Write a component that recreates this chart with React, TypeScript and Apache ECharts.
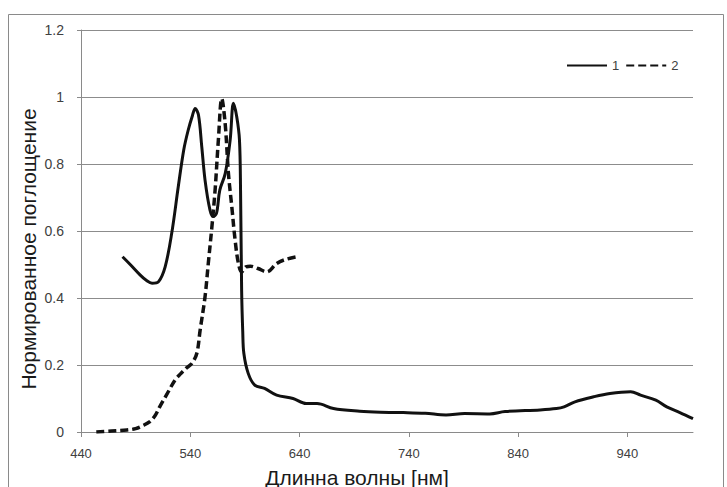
import React, { useEffect, useRef } from "react";
import * as echarts from "echarts";

const xTicks = [440, 540, 640, 740, 840, 940];
const seriesNames = ["1", "2"];
const xTitle = "Длинна волны [нм]";
const yTitle = "Нормированное поглощение";

const series1: [number, number][] = [
  [478, 0.523], [485, 0.5], [494, 0.469], [500, 0.452], [505, 0.444], [511, 0.449],
  [517, 0.493], [523, 0.593], [529, 0.732], [534, 0.842], [538, 0.9], [542, 0.945],
  [544.5, 0.966], [547.5, 0.946], [550.5, 0.852], [553.5, 0.752], [558, 0.663],
  [561, 0.643], [564, 0.653], [567, 0.722], [572, 0.772], [576.5, 0.872],
  [579.5, 0.981], [582.5, 0.941], [585, 0.872], [586, 0.72], [587, 0.42], [588, 0.3],
  [589, 0.235], [593, 0.175], [599, 0.14], [608, 0.13], [619, 0.11], [634, 0.1],
  [646, 0.085], [656, 0.085], [671, 0.07], [695, 0.062], [714, 0.059], [735, 0.058],
  [755, 0.056], [774, 0.051], [791, 0.055], [814, 0.054], [828, 0.061], [860, 0.066],
  [875, 0.07], [882, 0.075], [892, 0.09], [909, 0.105], [924, 0.115], [943, 0.12],
  [952, 0.11], [966, 0.095], [976, 0.075], [988, 0.058], [1000, 0.04],
];

const series2: [number, number][] = [
  [454, 0], [468, 0.003], [482, 0.006], [490, 0.01], [496, 0.018], [503, 0.031],
  [508, 0.05], [512, 0.075], [519, 0.115], [526, 0.155], [531.5, 0.175], [536, 0.19],
  [541.5, 0.205], [546, 0.235], [549, 0.304], [553.5, 0.404], [556.5, 0.504],
  [559.7, 0.61], [562.7, 0.722], [565.7, 0.872], [568.8, 0.995], [571.9, 0.921],
  [574.9, 0.772], [578, 0.672], [581, 0.573], [584, 0.504], [587, 0.478], [591, 0.493],
  [595, 0.495], [602, 0.488], [610, 0.478], [619, 0.503], [627, 0.515], [637.5, 0.523],
];

const FONT = "'Liberation Sans', Arial, sans-serif";

export default function App() {
  const ref = useRef<HTMLDivElement>(null);
  useEffect(() => {
    if (!ref.current) return;
    const chart = echarts.init(ref.current, null, { renderer: "svg" });
    chart.setOption({
      animation: false,
      backgroundColor: "#ffffff",
      grid: { left: 81, right: 34, top: 30, bottom: 55 },
      legend: {
        left: 561,
        top: 54,
        itemWidth: 40,
        itemHeight: 12,
        itemGap: 6,
        itemStyle: { opacity: 0 },
        textStyle: { fontFamily: FONT, fontSize: 13, color: "#404040" },
        data: seriesNames,
      },
      xAxis: {
        type: "value",
        min: 440,
        max: 1000,
        axisLine: { show: true, lineStyle: { color: "#8a8a8a", width: 1 } },
        axisTick: { show: true, length: 5, customValues: xTicks, lineStyle: { color: "#8a8a8a" } },
        axisLabel: {
          customValues: xTicks,
          fontFamily: FONT,
          fontSize: 13,
          color: "#404040",
          margin: 15,
        },
        splitLine: { show: false },
      },
      yAxis: {
        type: "value",
        min: 0,
        max: 1.2,
        interval: 0.2,
        axisLine: { show: true, lineStyle: { color: "#8a8a8a", width: 1 } },
        axisTick: { show: true, length: 4, lineStyle: { color: "#8a8a8a" } },
        axisLabel: { fontFamily: FONT, fontSize: 14, color: "#404040", margin: 17 },
        splitLine: { show: true, lineStyle: { color: "#8c8c8c", width: 1 } },
      },
      series: [
        {
          name: seriesNames[0],
          type: "line",
          data: series1,
          symbol: "none",
          smooth: 0.35,
          lineStyle: { color: "#111111", width: 3 },
          itemStyle: { color: "#111111" },
        },
        {
          name: seriesNames[1],
          type: "line",
          data: series2,
          symbol: "none",
          smooth: 0.35,
          lineStyle: { color: "#111111", width: 3.5, type: [8, 4] },
          itemStyle: { color: "#111111" },
        },
      ],
      graphic: [
        {
          type: "rect",
          shape: { x: 8.5, y: 14.5, width: 715, height: 490 },
          style: { fill: "none", stroke: "#8a8a8a", lineWidth: 1 },
          silent: true,
        },
        {
          type: "text",
          x: 357,
          y: 477,
          style: {
            text: xTitle,
            fontFamily: FONT,
            fontSize: 21,
            fill: "#1a1a1a",
            align: "center",
            verticalAlign: "middle",
          },
        },
        {
          type: "text",
          x: 28,
          y: 249,
          rotation: Math.PI / 2,
          style: {
            text: yTitle,
            fontFamily: FONT,
            fontSize: 21,
            fill: "#1a1a1a",
            align: "center",
            verticalAlign: "middle",
          },
        },
      ],
    });
    return () => chart.dispose();
  }, []);
  return (
    <div
      ref={ref}
      style={{ position: "absolute", left: 0, top: 0, width: 727, height: 487 }}
    />
  );
}
